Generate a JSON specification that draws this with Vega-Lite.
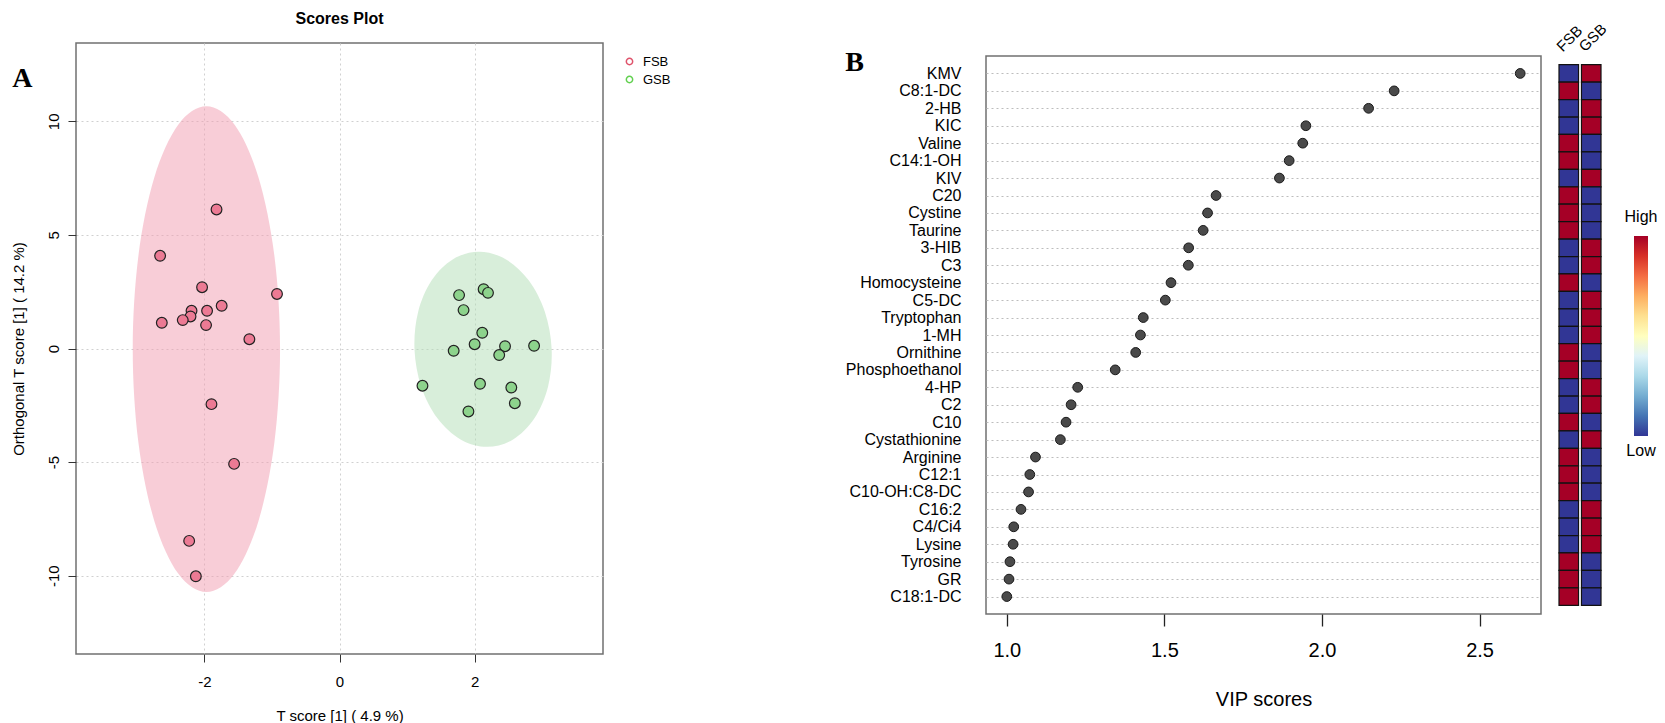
{
  "$schema": "https://vega.github.io/schema/vega-lite/v6.json",
  "background": "white",
  "padding": {"left": 10, "top": 10, "right": 5, "bottom": 5},
  "title": {"text": "A", "anchor": "start", "frame": "bounds", "font": "Liberation Serif", "fontSize": 28, "fontWeight": "bold", "color": "#000", "offset": 0, "baseline": "alphabetic", "dy": 105, "dx": 2},
  "config": {
    "font": "Liberation Sans",
    "view": {"stroke": "#707070", "strokeWidth": 1.5},
    "axis": {"labelColor": "#000", "titleColor": "#000", "tickColor": "#333", "domain": false, "titleFontWeight": "normal", "labelFontSize": 15, "titleFontSize": 15, "grid": false, "labelFont": "Liberation Sans", "titleFont": "Liberation Sans"}
  },
  "resolve": {"scale": {"color": "independent", "fill": "independent", "x": "independent", "y": "independent"}, "legend": {"color": "independent", "fill": "independent"}},
  "bounds": "flush",
  "spacing": 383,
  "datasets": {
    "scores": [
      {"t": -1.82, "o": 6.12, "group": "FSB"},
      {"t": -2.655, "o": 4.08, "group": "FSB"},
      {"t": -2.034, "o": 2.7, "group": "FSB"},
      {"t": -0.925, "o": 2.4, "group": "FSB"},
      {"t": -1.744, "o": 1.88, "group": "FSB"},
      {"t": -2.19, "o": 1.66, "group": "FSB"},
      {"t": -1.96, "o": 1.66, "group": "FSB"},
      {"t": -2.205, "o": 1.41, "group": "FSB"},
      {"t": -2.32, "o": 1.25, "group": "FSB"},
      {"t": -2.63, "o": 1.13, "group": "FSB"},
      {"t": -1.975, "o": 1.03, "group": "FSB"},
      {"t": -1.334, "o": 0.41, "group": "FSB"},
      {"t": -1.895, "o": -2.45, "group": "FSB"},
      {"t": -1.56, "o": -5.08, "group": "FSB"},
      {"t": -2.225, "o": -8.47, "group": "FSB"},
      {"t": -2.126, "o": -10.03, "group": "FSB"},
      {"t": 1.77, "o": 2.35, "group": "GSB"},
      {"t": 2.133, "o": 2.61, "group": "GSB"},
      {"t": 2.198, "o": 2.45, "group": "GSB"},
      {"t": 1.836, "o": 1.69, "group": "GSB"},
      {"t": 2.113, "o": 0.69, "group": "GSB"},
      {"t": 2.0, "o": 0.19, "group": "GSB"},
      {"t": 2.45, "o": 0.1, "group": "GSB"},
      {"t": 2.88, "o": 0.12, "group": "GSB"},
      {"t": 1.69, "o": -0.1, "group": "GSB"},
      {"t": 2.364, "o": -0.29, "group": "GSB"},
      {"t": 1.228, "o": -1.64, "group": "GSB"},
      {"t": 2.08, "o": -1.555, "group": "GSB"},
      {"t": 2.543, "o": -1.72, "group": "GSB"},
      {"t": 2.595, "o": -2.41, "group": "GSB"},
      {"t": 1.908, "o": -2.77, "group": "GSB"}
    ],
    "ellipse": [
      {"i": 0, "t": -0.88, "o": -0.03, "group": "FSB"},
      {"i": 1, "t": -0.963, "o": 4.061, "group": "FSB"},
      {"i": 2, "t": -1.199, "o": 7.529, "group": "FSB"},
      {"i": 3, "t": -1.553, "o": 9.847, "group": "FSB"},
      {"i": 4, "t": -1.97, "o": 10.66, "group": "FSB"},
      {"i": 5, "t": -2.387, "o": 9.847, "group": "FSB"},
      {"i": 6, "t": -2.741, "o": 7.529, "group": "FSB"},
      {"i": 7, "t": -2.977, "o": 4.061, "group": "FSB"},
      {"i": 8, "t": -3.06, "o": -0.03, "group": "FSB"},
      {"i": 9, "t": -2.977, "o": -4.121, "group": "FSB"},
      {"i": 10, "t": -2.741, "o": -7.589, "group": "FSB"},
      {"i": 11, "t": -2.387, "o": -9.907, "group": "FSB"},
      {"i": 12, "t": -1.97, "o": -10.72, "group": "FSB"},
      {"i": 13, "t": -1.553, "o": -9.907, "group": "FSB"},
      {"i": 14, "t": -1.199, "o": -7.589, "group": "FSB"},
      {"i": 15, "t": -0.963, "o": -4.121, "group": "FSB"},
      {"i": 0, "t": 3.14, "o": -0.035, "group": "GSB"},
      {"i": 1, "t": 3.04, "o": 1.609, "group": "GSB"},
      {"i": 2, "t": 2.8, "o": 3.002, "group": "GSB"},
      {"i": 3, "t": 2.458, "o": 3.933, "group": "GSB"},
      {"i": 4, "t": 2.065, "o": 4.26, "group": "GSB"},
      {"i": 5, "t": 1.681, "o": 3.933, "group": "GSB"},
      {"i": 6, "t": 1.365, "o": 3.002, "group": "GSB"},
      {"i": 7, "t": 1.164, "o": 1.609, "group": "GSB"},
      {"i": 8, "t": 1.11, "o": -0.035, "group": "GSB"},
      {"i": 9, "t": 1.21, "o": -1.679, "group": "GSB"},
      {"i": 10, "t": 1.45, "o": -3.072, "group": "GSB"},
      {"i": 11, "t": 1.792, "o": -4.003, "group": "GSB"},
      {"i": 12, "t": 2.185, "o": -4.33, "group": "GSB"},
      {"i": 13, "t": 2.569, "o": -4.003, "group": "GSB"},
      {"i": 14, "t": 2.885, "o": -3.072, "group": "GSB"},
      {"i": 15, "t": 3.086, "o": -1.679, "group": "GSB"}
    ],
    "vip": [
      {"m": "KMV", "vip": 2.629, "FSB": "Low", "GSB": "High"},
      {"m": "C8:1-DC", "vip": 2.229, "FSB": "High", "GSB": "Low"},
      {"m": "2-HB", "vip": 2.148, "FSB": "Low", "GSB": "High"},
      {"m": "KIC", "vip": 1.949, "FSB": "Low", "GSB": "High"},
      {"m": "Valine", "vip": 1.939, "FSB": "High", "GSB": "Low"},
      {"m": "C14:1-OH", "vip": 1.896, "FSB": "High", "GSB": "Low"},
      {"m": "KIV", "vip": 1.865, "FSB": "Low", "GSB": "High"},
      {"m": "C20", "vip": 1.664, "FSB": "High", "GSB": "Low"},
      {"m": "Cystine", "vip": 1.637, "FSB": "High", "GSB": "Low"},
      {"m": "Taurine", "vip": 1.623, "FSB": "High", "GSB": "Low"},
      {"m": "3-HIB", "vip": 1.577, "FSB": "Low", "GSB": "High"},
      {"m": "C3", "vip": 1.576, "FSB": "Low", "GSB": "High"},
      {"m": "Homocysteine", "vip": 1.521, "FSB": "High", "GSB": "Low"},
      {"m": "C5-DC", "vip": 1.503, "FSB": "Low", "GSB": "High"},
      {"m": "Tryptophan", "vip": 1.433, "FSB": "Low", "GSB": "High"},
      {"m": "1-MH", "vip": 1.424, "FSB": "Low", "GSB": "High"},
      {"m": "Ornithine", "vip": 1.409, "FSB": "High", "GSB": "Low"},
      {"m": "Phosphoethanol", "vip": 1.344, "FSB": "High", "GSB": "Low"},
      {"m": "4-HP", "vip": 1.225, "FSB": "Low", "GSB": "High"},
      {"m": "C2", "vip": 1.204, "FSB": "Low", "GSB": "High"},
      {"m": "C10", "vip": 1.188, "FSB": "High", "GSB": "Low"},
      {"m": "Cystathionine", "vip": 1.17, "FSB": "Low", "GSB": "High"},
      {"m": "Arginine", "vip": 1.091, "FSB": "High", "GSB": "Low"},
      {"m": "C12:1", "vip": 1.073, "FSB": "High", "GSB": "Low"},
      {"m": "C10-OH:C8-DC", "vip": 1.069, "FSB": "High", "GSB": "Low"},
      {"m": "C16:2", "vip": 1.045, "FSB": "Low", "GSB": "High"},
      {"m": "C4/Ci4", "vip": 1.022, "FSB": "Low", "GSB": "High"},
      {"m": "Lysine", "vip": 1.02, "FSB": "Low", "GSB": "High"},
      {"m": "Tyrosine", "vip": 1.01, "FSB": "High", "GSB": "Low"},
      {"m": "GR", "vip": 1.007, "FSB": "High", "GSB": "Low"},
      {"m": "C18:1-DC", "vip": 1.0, "FSB": "High", "GSB": "Low"}
    ]
  },
  "hconcat": [
    {
      "width": 527,
      "height": 611,
      "title": {"text": "Scores Plot", "fontSize": 16, "fontWeight": "bold", "color": "#000", "offset": 3, "baseline": "alphabetic"},
      "layer": [
        {
          "data": {"name": "ellipse"},
          "mark": {"type": "line", "filled": true, "interpolate": "cardinal-closed", "fillOpacity": 0.5, "strokeWidth": 0},
          "encoding": {
            "x": {"field": "t", "type": "quantitative", "scale": {"domain": [-3.9, 3.9], "nice": false, "zero": false},
              "axis": {"title": "T score [1] ( 4.9 %)", "values": [-2, 0, 2], "labelExpr": "'' + datum.value", "grid": true, "gridDash": [2, 3], "gridColor": "#d0d0d0", "tickSize": 8, "labelPadding": 12.5, "titlePadding": 19}},
            "y": {"field": "o", "type": "quantitative", "scale": {"domain": [-13.45, 13.45], "nice": false, "zero": false},
              "axis": {"title": "Orthogonal T score [1] ( 14.2 %)", "values": [-10, -5, 0, 5, 10], "labelExpr": "'' + datum.value", "grid": true, "gridDash": [2, 3], "gridColor": "#d0d0d0", "tickSize": 8, "labelAngle": 270, "labelAlign": "center", "labelBaseline": "bottom", "labelPadding": 7, "titlePadding": 20}},
            "color": {"field": "group", "type": "nominal", "scale": {"domain": ["FSB", "GSB"], "range": ["#F19BB0", "#B1DDB5"]},
              "legend": {"title": null, "orient": "none", "legendX": 547, "legendY": 12, "symbolType": "circle", "symbolSize": 40, "symbolStrokeWidth": 1.5, "symbolFillColor": "transparent", "labelFontSize": 13, "labelOffset": 7, "rowPadding": 4, "padding": 0,
                "encode": {"symbols": {"update": {"fill": {"value": "transparent"}, "stroke": [{"test": "datum.value === 'FSB'", "value": "#DF536B"}, {"value": "#61D04F"}], "opacity": {"value": 1}, "strokeOpacity": {"value": 1}, "fillOpacity": {"value": 0}, "strokeWidth": {"value": 1.5}}}}}},
            "order": {"field": "i", "type": "quantitative"}
          }
        },
        {
          "data": {"name": "scores"},
          "mark": {"type": "point", "shape": "circle", "filled": true, "size": 115, "stroke": "#222", "strokeWidth": 1.2, "opacity": 1},
          "encoding": {
            "x": {"field": "t", "type": "quantitative"},
            "y": {"field": "o", "type": "quantitative"},
            "fill": {"field": "group", "type": "nominal", "scale": {"domain": ["FSB", "GSB"], "range": ["#EC7A94", "#8DD38C"]}, "legend": null}
          }
        }
      ]
    },
    {
      "resolve": {"scale": {"color": "independent"}},
      "vconcat": [
        {"width": 1, "height": 13, "data": {"values": []}, "mark": "point", "view": {"stroke": null}},
        {
          "hconcat": [
            {
              "width": 555,
              "height": 558,
              "data": {"name": "vip"},
              "title": {"text": "B", "anchor": "start", "frame": "bounds", "font": "Liberation Serif", "fontSize": 28, "fontWeight": "bold", "color": "#000", "offset": 0, "baseline": "alphabetic", "dy": 43},
              "mark": {"type": "point", "shape": "circle", "filled": true, "size": 95, "fill": "#4a4a4a", "stroke": "#1a1a1a", "strokeWidth": 1, "opacity": 1},
              "encoding": {
                "x": {"field": "vip", "type": "quantitative", "scale": {"domain": [0.934, 2.695], "nice": false, "zero": false},
                  "axis": {"title": "VIP scores", "values": [1, 1.5, 2, 2.5], "format": ".1f", "tickSize": 12, "tickColor": "#222", "tickWidth": 1.3, "labelFontSize": 20, "titleFontSize": 20, "labelPadding": 14.5, "titlePadding": 29}},
                "y": {"field": "m", "type": "nominal",
                  "sort": ["KMV", "C8:1-DC", "2-HB", "KIC", "Valine", "C14:1-OH", "KIV", "C20", "Cystine", "Taurine", "3-HIB", "C3", "Homocysteine", "C5-DC", "Tryptophan", "1-MH", "Ornithine", "Phosphoethanol", "4-HP", "C2", "C10", "Cystathionine", "Arginine", "C12:1", "C10-OH:C8-DC", "C16:2", "C4/Ci4", "Lysine", "Tyrosine", "GR", "C18:1-DC"],
                  "scale": {"type": "point", "padding": 1},
                  "axis": {"title": null, "ticks": false, "tickSize": 0, "labelPadding": 25, "labelFontSize": 16, "grid": true, "gridDash": [2, 3], "gridColor": "#bdbdbd"}}
              }
            },
            {
              "hconcat": [
                {
                  "width": 42,
                  "height": 558,
                  "data": {"name": "vip"},
                  "transform": [{"fold": ["FSB", "GSB"], "as": ["g", "level"]}],
                  "view": {"stroke": null},
                  "mark": {"type": "rect", "stroke": "#111", "strokeWidth": 1.2},
                  "encoding": {
                    "x": {"field": "g", "type": "nominal", "sort": ["FSB", "GSB"], "scale": {"paddingInner": 0.13, "paddingOuter": 0},
                      "axis": {"orient": "top", "title": null, "ticks": false, "tickSize": 0, "domain": false, "labelAngle": 315, "labelAlign": "left", "labelBaseline": "bottom", "labelPadding": 2, "labelOffset": -4, "labelFontSize": 15}},
                    "y": {"field": "m", "type": "nominal",
                      "sort": ["KMV", "C8:1-DC", "2-HB", "KIC", "Valine", "C14:1-OH", "KIV", "C20", "Cystine", "Taurine", "3-HIB", "C3", "Homocysteine", "C5-DC", "Tryptophan", "1-MH", "Ornithine", "Phosphoethanol", "4-HP", "C2", "C10", "Cystathionine", "Arginine", "C12:1", "C10-OH:C8-DC", "C16:2", "C4/Ci4", "Lysine", "Tyrosine", "GR", "C18:1-DC"],
                      "scale": {"paddingInner": 0, "paddingOuter": 0.5}, "axis": null},
                    "color": {"field": "level", "type": "nominal", "scale": {"domain": ["High", "Low"], "range": ["#A50026", "#313695"]}, "legend": null}
                  }
                },
                {
                  "width": 14,
                  "height": 558,
                  "data": {"values": [{"lo": -1, "hi": 1}]},
                  "view": {"stroke": null},
                  "layer": [
                    {
                      "mark": {"type": "rect", "color": {"gradient": "linear", "x1": 0, "y1": 0, "x2": 0, "y2": 1, "stops": [
                        {"offset": 0, "color": "#A50026"}, {"offset": 0.1, "color": "#D73027"}, {"offset": 0.2, "color": "#F46D43"}, {"offset": 0.3, "color": "#FDAE61"}, {"offset": 0.4, "color": "#FEE090"}, {"offset": 0.5, "color": "#FFFFBF"}, {"offset": 0.6, "color": "#E0F3F8"}, {"offset": 0.7, "color": "#ABD9E9"}, {"offset": 0.8, "color": "#74ADD1"}, {"offset": 0.9, "color": "#4575B4"}, {"offset": 1, "color": "#313695"}]}},
                      "encoding": {
                        "y": {"field": "hi", "type": "quantitative", "scale": {"domain": [-2.78, 2.8], "nice": false, "zero": false}, "axis": null},
                        "y2": {"field": "lo"}
                      }
                    },
                    {
                      "mark": {"type": "text", "text": "High", "baseline": "bottom", "dy": -11, "fontSize": 16, "color": "#000"},
                      "encoding": {"y": {"field": "hi", "type": "quantitative"}}
                    },
                    {
                      "mark": {"type": "text", "text": "Low", "baseline": "top", "dy": 7, "fontSize": 16, "color": "#000"},
                      "encoding": {"y": {"field": "lo", "type": "quantitative"}}
                    }
                  ]
                }
              ],
              "spacing": 33,
              "bounds": "flush"
            }
          ],
          "spacing": 18,
          "bounds": "flush"
        }
      ],
      "spacing": 0,
      "bounds": "flush"
    }
  ]
}
